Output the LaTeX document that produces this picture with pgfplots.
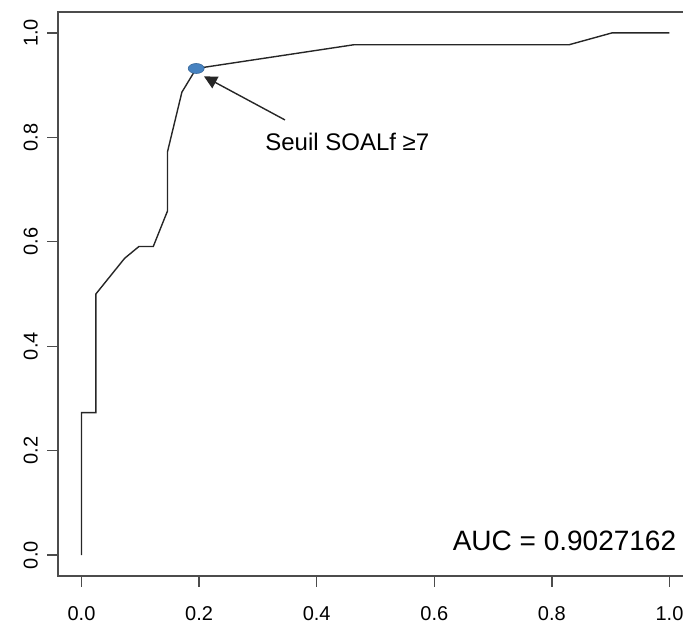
\documentclass[border=0pt]{standalone}
\usepackage{fontspec}
\setmainfont{Liberation Sans}
\usepackage{pgfplots}
\pgfplotsset{compat=1.18}
\usetikzlibrary{arrows.meta}

\definecolor{rocline}{gray}{0.15}
\definecolor{boxline}{gray}{0.3}
\definecolor{seuil}{RGB}{70,130,192}

\begin{document}
\begin{tikzpicture}
\begin{axis}[
    scale only axis,
    width=317.5pt,
    height=282pt,
    xmin=-0.04, xmax=1.04,
    ymin=-0.04, ymax=1.04,
    xtick={0,0.2,0.4,0.6,0.8,1},
    ytick={0,0.2,0.4,0.6,0.8,1},
    xticklabels={0.0,0.2,0.4,0.6,0.8,1.0},
    yticklabels={0.0,0.2,0.4,0.6,0.8,1.0},
    tick pos=left,
    tick align=outside,
    major tick length=5.5pt,
    tick style={boxline, line width=0.7pt},
    axis line style={boxline, line width=0.9pt},
    tick label style={font=\fontsize{10}{12}\selectfont},
    xticklabel style={yshift=-6pt},
    yticklabel style={rotate=90, anchor=south, yshift=1pt},
    /pgf/number format/assume math mode=true,
    clip=false,
]
% point seuil
\addplot[only marks, mark=*, mark size=2.5pt,
    mark options={xscale=1.6, fill=seuil, draw=seuil!80!black, line width=0.3pt}]
    coordinates {(0.1951,0.9318)};
% courbe ROC
\addplot[rocline, line width=0.7pt, mark=none] coordinates {
    (0,0) (0,0.2727) (0.0244,0.2727) (0.0244,0.5) (0.0732,0.5682)
    (0.0976,0.5909) (0.1220,0.5909) (0.1463,0.6591) (0.1463,0.7727)
    (0.1707,0.8864) (0.1951,0.9318) (0.4634,0.9773) (0.8293,0.9773)
    (0.9024,1) (1,1)
};
\draw[rocline, line width=0.7pt, -{Triangle[length=6.5pt,width=6.5pt]}]
    (axis cs:0.346,0.8333) -- (axis cs:0.2083,0.9167);
\node[anchor=base west, inner sep=0pt, font=\fontsize{12}{14}\selectfont]
    at (axis cs:0.312,0.774) {Seuil SOALf ≥7};
\node[anchor=base east, inner sep=0pt, font=\fontsize{14}{16}\selectfont]
    at (axis cs:1.012,0.0096) {AUC = 0.9027162};
\end{axis}
\pgfresetboundingbox
\path[use as bounding box] ([xshift=-29pt,yshift=-23.5pt]current axis.south west)
    rectangle ([xshift=-5pt,yshift=6pt]current axis.north east);
\end{tikzpicture}
\end{document}
